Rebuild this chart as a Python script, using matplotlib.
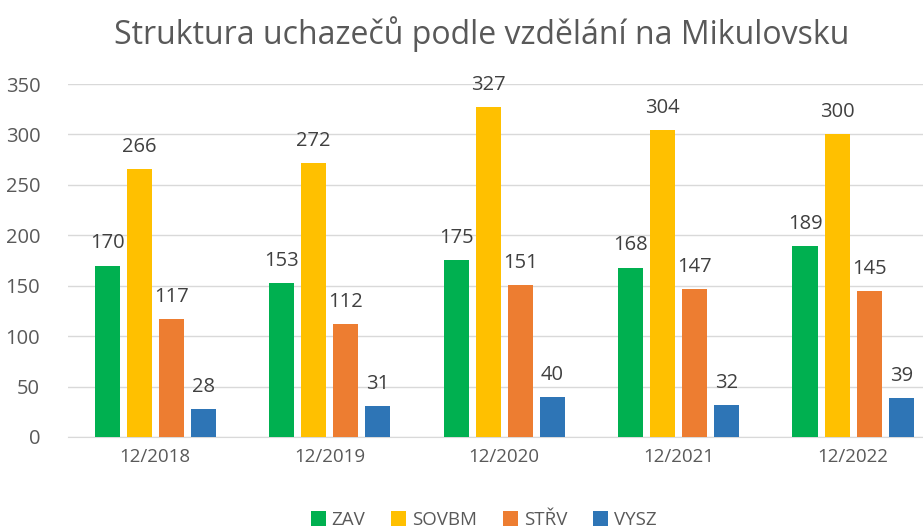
import numpy as np
from matplotlib import pyplot as plt

plt.rcParams['font.family'] = ['Open Sans', 'DejaVu Sans']

years = ["12/2018", "12/2019", "12/2020", "12/2021", "12/2022"]
series_names = ["ZAV", "SOVBM", "STŘV", "VYSZ"]
zav = [170, 153, 175, 168, 189]
sovbm = [266, 272, 327, 304, 300]
strv = [117, 112, 151, 147, 145]
vysz = [28, 31, 40, 32, 39]
colors = ["#00b050", "#ffc000", "#ed7d31", "#2e75b6"]

fig = plt.figure(figsize=(9.23, 5.30), dpi=100)
ax = fig.add_axes([0.0737, 0.1755, 0.9263, 0.666])

x = np.arange(len(years))
width = 0.144
step = 0.184
for i, (vals, name, col) in enumerate(zip([zav, sovbm, strv, vysz], series_names, colors)):
    pos = x + (i - 1.5) * step
    ax.bar(pos, vals, width, color=col, label=name, zorder=3)
    for p, v in zip(pos, vals):
        ax.text(p, v + 12, str(v), ha="center", va="bottom", fontsize=14.5, color="#404040")

ax.set_ylim(0, 350)
ax.set_xlim(-0.5, 4.4)
ax.set_yticks(range(0, 351, 50))
ax.set_xticks(x)
ax.set_xticklabels(years)
ax.tick_params(axis="x", length=0, labelsize=13.5, labelcolor="#595959", pad=8)
ax.tick_params(axis="y", length=0, labelsize=14.5, labelcolor="#595959", pad=20)
ax.grid(axis="y", color="#d9d9d9", linewidth=1, zorder=0)
for s in ["top", "right", "left"]:
    ax.spines[s].set_visible(False)
ax.spines["bottom"].set_color("#d9d9d9")

fig.suptitle("Struktura uchazečů podle vzdělání na Mikulovsku", x=0.522, y=0.97,
             fontsize=23, color="#595959")
fig.legend(loc="lower center", bbox_to_anchor=(0.524, -0.03), ncol=4, frameon=False,
           fontsize=13.5, labelcolor="#595959", handlelength=0.8, handleheight=0.8,
           handletextpad=0.3, columnspacing=1.4)

plt.savefig("out.png")
